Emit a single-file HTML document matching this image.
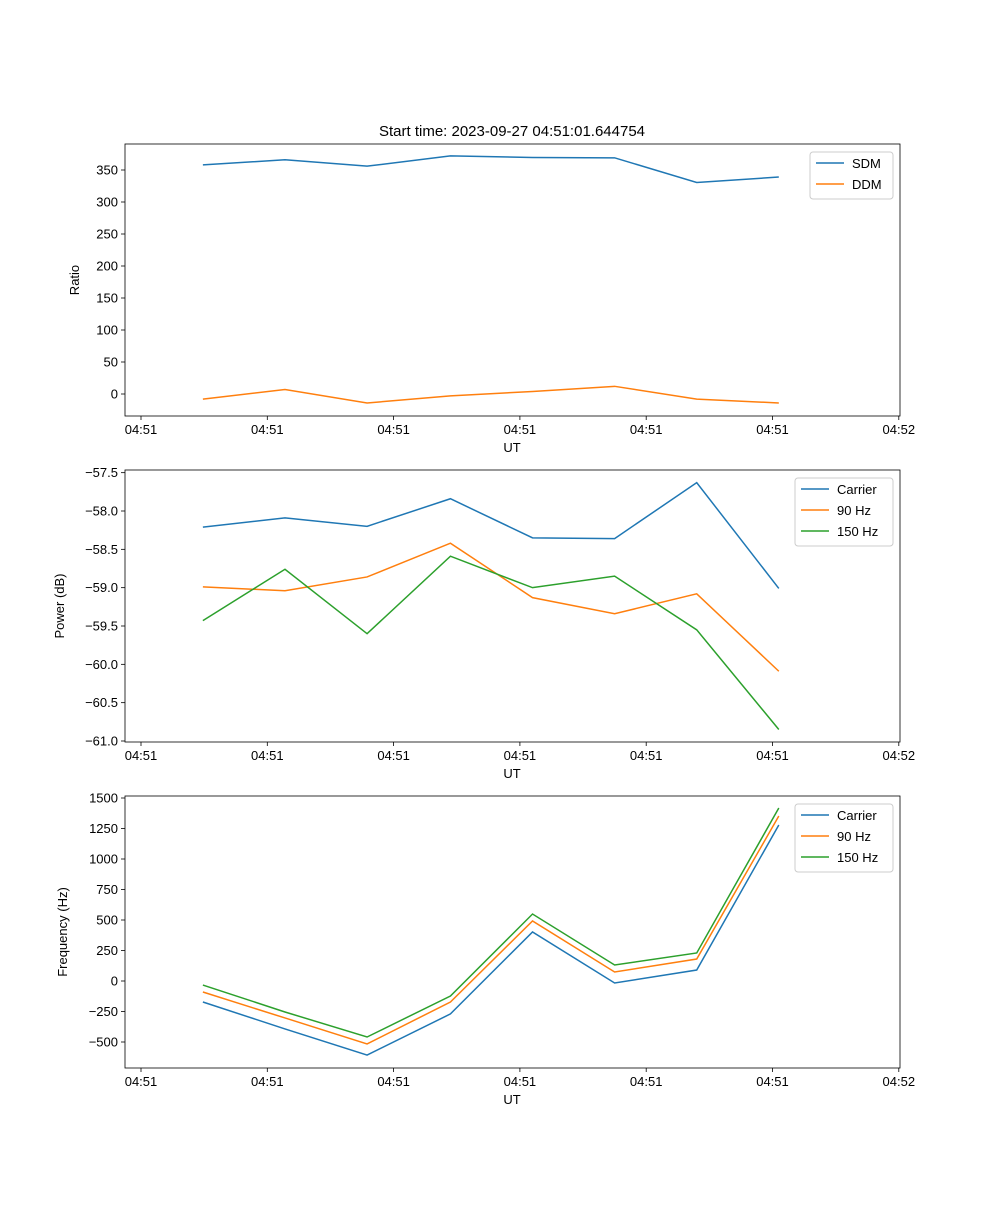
<!DOCTYPE html>
<html><head><meta charset="utf-8"><style>
body{margin:0;background:#fff;}
svg{font-family:"Liberation Sans","DejaVu Sans",sans-serif;}
</style></head><body>
<svg id="fig" width="1000" height="1200" xmlns="http://www.w3.org/2000/svg">
<text x="512" y="136" font-size="15" text-anchor="middle">Start time: 2023-09-27 04:51:01.644754</text>
</svg>
<script>
const times = [4.9, 11.4, 17.9, 24.5, 31.0, 37.5, 44.0, 50.5];
const xTicks = [0, 10, 20, 30, 40, 50, 60];
const xTickLabels = ["04:51","04:51","04:51","04:51","04:51","04:51","04:52"];
const sdm = [358, 366, 356, 372, 369.5, 369, 330.5, 339];
const ddm = [-8, 7, -14, -3, 4, 12, -8, -14];
const pCarrier = [-58.21, -58.09, -58.20, -57.84, -58.35, -58.36, -57.63, -59.01];
const p90 = [-58.99, -59.04, -58.86, -58.42, -59.13, -59.34, -59.08, -60.09];
const p150 = [-59.43, -58.76, -59.60, -58.59, -59.00, -58.85, -59.55, -60.85];
const fCarrier = [-172, -393, -607, -270, 402, -16, 90, 1279];
const f90 = [-90, -303, -516, -172, 492, 74, 180, 1352];
const f150 = [-33, -254, -459, -123, 549, 131, 230, 1418];
const ratioTicks = [0,50,100,150,200,250,300,350];
const powerTicks = [-61,-60.5,-60,-59.5,-59,-58.5,-58,-57.5];
const freqTicks = [-500,-250,0,250,500,750,1000,1250,1500];

const NS="http://www.w3.org/2000/svg";
const svg=document.getElementById('fig');
function el(t,a,p){const e=document.createElementNS(NS,t);for(const k in a)e.setAttribute(k,a[k]);(p||svg).appendChild(e);return e;}
const X0=125,X1=900;
function xs(t){return 141+t*12.63;}
function panel(name,top,bot,yv0,yp0,yv1,yp1,ticks,fmt,ylabel,series,legend){
  const g=el('g',{});
  
  
  const ys=v=>yp0+(v-yv0)*(yp1-yp0)/(yv1-yv0);
  series.forEach(s=>{
    const pl=el('polyline',{points:s.d.map((v,i)=>xs(times[i])+','+ys(v)).join(' '),fill:'none',stroke:s.c,'stroke-width':1.5},g);
    
    
  });
  el('rect',{x:X0,y:top,width:X1-X0,height:bot-top,fill:'none',stroke:'#000','stroke-width':0.8},g);
  xTicks.forEach((t,i)=>{const x=xs(t);el('line',{x1:x,x2:x,y1:bot,y2:bot+4,stroke:'#000','stroke-width':0.8},g);
    const tx=el('text',{x:x,y:bot+18,'font-size':13,'text-anchor':'middle'},g);tx.textContent=xTickLabels[i];
    
    });
  ticks.forEach(v=>{const y=ys(v);el('line',{x1:X0-4,x2:X0,y1:y,y2:y,stroke:'#000','stroke-width':0.8},g);
    const tx=el('text',{x:X0-7,y:y+4.5,'font-size':13,'text-anchor':'end'},g);tx.textContent=fmt(v).replace('-','\u2212');
    
    });
  const xl=el('text',{x:512,y:bot+36,'font-size':13,'text-anchor':'middle'},g);xl.textContent='UT';
  
  
  const cy=(top+bot)/2;
  const yl=el('text',{x:legend.yl,y:cy,'font-size':13,'text-anchor':'middle',transform:'rotate(-90 '+legend.yl+' '+cy+')'},g);yl.textContent=ylabel;
  
  
  const lg=el('g',{},g);
  
  
  el('rect',{x:legend.x,y:top+8,width:X1-7-legend.x,height:series.length*21+5,fill:'#fff',stroke:'#ccc',rx:3},lg);
  series.forEach((s,i)=>{const y=top+19+i*21;
    el('line',{x1:legend.x+6,x2:legend.x+34,y1:y,y2:y,stroke:s.c,'stroke-width':1.5},lg);
    const t=el('text',{x:legend.x+42,y:y+5,'font-size':13},lg);t.textContent=s.n;
    
    });
}
const B='#1f77b4',O='#ff7f0e',G='#2ca02c';
panel('ratio',144,416,0,394,350,170,ratioTicks,v=>String(v),'Ratio',[{n:'SDM',d:sdm,c:B},{n:'DDM',d:ddm,c:O}],{x:810,yl:79});
panel('power',470,742,-58,511,-61,741,powerTicks,v=>v.toFixed(1),'Power (dB)',[{n:'Carrier',d:pCarrier,c:B},{n:'90 Hz',d:p90,c:O},{n:'150 Hz',d:p150,c:G}],{x:795,yl:64});
panel('frequency',796,1068,0,981,1500,798,freqTicks,v=>String(v),'Frequency (Hz)',[{n:'Carrier',d:fCarrier,c:B},{n:'90 Hz',d:f90,c:O},{n:'150 Hz',d:f150,c:G}],{x:795,yl:67});
</script>
</body></html>
